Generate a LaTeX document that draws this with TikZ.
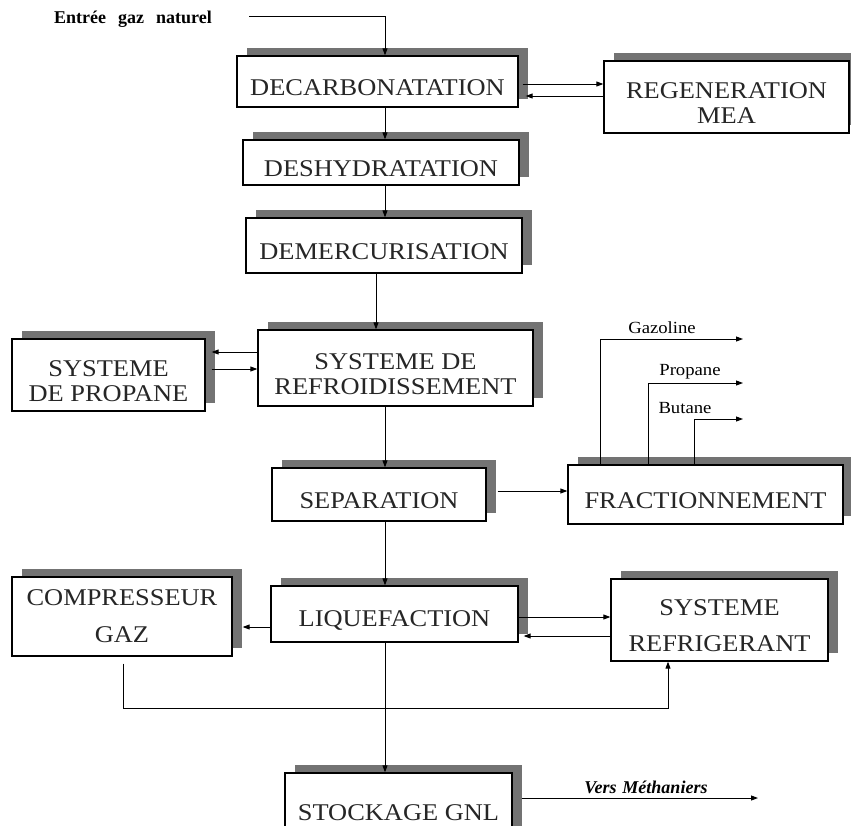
\documentclass[tikz,border=0pt]{standalone}
\usepackage{fontspec}
\setmainfont{Liberation Serif}
\newfontfamily\boxfont[FakeStretch=1.1]{Liberation Serif}
\newcommand\lift{\rule{0pt}{28pt}}
\usetikzlibrary{arrows.meta,shadows}

\begin{document}
\begin{tikzpicture}[x=1pt,y=-1pt,
  box/.style={draw=black, line width=1.3pt, fill=white, inner sep=0pt, align=center,
    font=\boxfont\fontsize{24}{25}\selectfont, text=black!85,
    execute at begin node={\lift},
    drop shadow={shadow xshift=10pt, shadow yshift=8pt, opacity=1, fill=black!55}},
  flow/.style={line width=0.9pt, -{Triangle[length=7pt,width=5pt]}},
  lbl/.style={font=\boxfont\fontsize{17}{18}\selectfont, inner sep=0pt}]
\useasboundingbox (0,0) rectangle (851,825);
\node[box, minimum width=281pt, minimum height=51pt] (decarb) at (377.5,81.5) {DECARBONATATION};
\node[box, minimum width=245pt, minimum height=72pt] (regen) at (726.5,97) {\lift REGENERATION\\MEA};
\node[box, minimum width=276pt, minimum height=45pt] (deshyd) at (381,162.5) {DESHYDRATATION};
\node[box, minimum width=276pt, minimum height=55pt] (demerc) at (384,245.5) {DEMERCURISATION};
\node[box, minimum width=193pt, minimum height=72pt] (propane) at (108.5,375) {\lift SYSTEME\\DE PROPANE};
\node[box, minimum width=275pt, minimum height=76pt] (refroid) at (395.5,368) {\lift SYSTEME DE\\REFROIDISSEMENT};
\node[box, minimum width=214pt, minimum height=53pt] (separ) at (379,494.5) {SEPARATION};
\node[box, minimum width=275pt, minimum height=59pt] (fract) at (705.5,494.5) {FRACTIONNEMENT};
\node[box, minimum width=220pt, minimum height=79pt] (compr) at (122,616.5) {COMPRESSEUR\\[12pt]GAZ};
\node[box, minimum width=247pt, minimum height=56pt] (liquef) at (394.5,614) {LIQUEFACTION};
\node[box, minimum width=217pt, minimum height=82pt] (refrig) at (719.5,620) {\lift SYSTEME\\[11pt]REFRIGERANT};
\node[box, minimum width=227pt, minimum height=67pt] (stock) at (398.5,806.5) {STOCKAGE GNL};

\node[font=\bfseries\fontsize{18}{19}\selectfont, inner sep=0pt] (entree) at (133,19) {Entrée\hspace{12pt}gaz\hspace{12pt}naturel};
\coordinate (in) at (249,16);
\coordinate (spine) at (385,0);
\coordinate (spineb) at (376,0);
\draw[flow] (in) -| (decarb.north -| spine);
\draw[flow] (decarb.south -| spine) -- (deshyd.north -| spine);
\draw[flow] (deshyd.south -| spine) -- (demerc.north -| spine);
\draw[flow] (demerc.south -| spineb) -- (refroid.north -| spineb);
\draw[flow] (refroid.south -| spine) -- (separ.north -| spine);
\draw[flow] (separ.south -| spine) -- (liquef.north -| spine);
\draw[flow] (liquef.south -| spine) -- (stock.north -| spine);

\draw[flow, shorten <=4pt] (decarb.east |- 0,84) -- (regen.west |- 0,84);
\draw[flow, shorten >=7pt] (regen.west |- 0,96) -- (decarb.east |- 0,96);
\draw[flow, shorten >=6pt] (refroid.west |- 0,352) -- (propane.east |- 0,352);
\draw[flow, shorten <=6pt] (propane.east |- 0,369) -- (refroid.west |- 0,369);
\draw[flow, shorten <=11pt] (separ.east |- 0,491) -- (fract.west |- 0,491);

\coordinate (gaz) at (743,339);
\coordinate (pro) at (743,383);
\coordinate (but) at (743,419);
\draw[flow] (fract.north -| 600,0) |- (gaz);
\draw[flow] (fract.north -| 648,0) |- (pro);
\draw[flow] (fract.north -| 694,0) |- (but);
\node[lbl] (lgaz) at (662,328) {Gazoline};
\node[lbl] (lpro) at (690,372) {Propane};
\node[lbl] (lbut) at (685,408) {Butane};

\draw[flow, shorten >=10pt] (liquef.west |- 0,627) -- (compr.east |- 0,627);
\draw[flow] (liquef.east |- 0,617) -- (refrig.west |- 0,617);
\draw[flow, shorten >=5pt] (refrig.west |- 0,636) -- (liquef.east |- 0,636);
\coordinate (loop) at (123,708);
\draw[flow, shorten <=7pt] (compr.south -| loop) -- (loop) -| (refrig.south -| 668,0);

\coordinate (ship) at (758,798);
\draw[flow, shorten <=9pt] (stock.east |- ship) -- (ship);
\node[font=\bfseries\itshape\fontsize{18}{19}\selectfont, inner sep=0pt] (vers) at (646,787) {Vers\hspace{6pt}Méthaniers};
\end{tikzpicture}
\end{document}
